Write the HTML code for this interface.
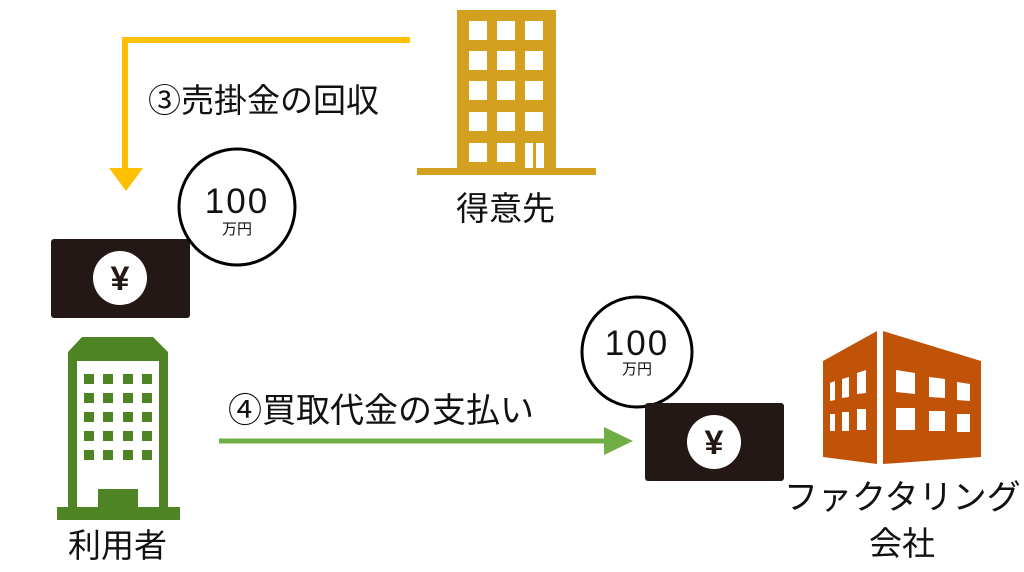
<!DOCTYPE html>
<html><head><meta charset="utf-8"><style>
body{margin:0;width:1024px;height:572px;background:#fff;overflow:hidden;position:relative;font-family:"Liberation Sans","Noto Sans CJK JP",sans-serif}
.t{position:absolute;color:#111;white-space:nowrap;line-height:1}
</style></head><body>
<svg width="1024" height="572" style="position:absolute;left:0;top:0">
<polyline points="410,40 125,40 125,172" fill="none" stroke="#FFC000" stroke-width="6"/>
<polygon points="109,168 143,168 126,191" fill="#FFC000"/>
<rect x="457" y="10" width="99" height="160" fill="#D4A020"/>
<rect x="417" y="168" width="179" height="7" fill="#D4A020"/>
<g fill="#fff">
<rect x="469" y="21" width="18" height="19"/><rect x="497" y="21" width="18" height="19"/><rect x="525" y="21" width="18" height="19"/>
<rect x="469" y="51" width="18" height="19"/><rect x="497" y="51" width="18" height="19"/><rect x="525" y="51" width="18" height="19"/>
<rect x="469" y="81" width="18" height="19"/><rect x="497" y="81" width="18" height="19"/><rect x="525" y="81" width="18" height="19"/>
<rect x="469" y="112" width="18" height="19"/><rect x="497" y="112" width="18" height="19"/><rect x="525" y="112" width="18" height="19"/>
<rect x="469" y="143" width="18" height="19"/><rect x="497" y="143" width="18" height="19"/>
<rect x="525" y="143" width="8" height="25"/><rect x="536" y="143" width="8" height="25"/>
</g>
<rect x="51" y="239" width="139" height="79" rx="3" fill="#231815"/>
<circle cx="120" cy="278" r="27" fill="#fff"/>
<text x="120" y="290" font-size="34" font-weight="bold" text-anchor="middle" fill="#231815" font-family="Liberation Sans,Noto Sans CJK JP,sans-serif">¥</text>
<circle cx="237" cy="207" r="58" fill="#fff" stroke="#000" stroke-width="3"/>
<circle cx="637" cy="352" r="55" fill="#fff" stroke="#000" stroke-width="3"/>
<rect x="645" y="403" width="139" height="78" rx="3" fill="#231815"/>
<circle cx="714" cy="442" r="27" fill="#fff"/>
<text x="714" y="454" font-size="34" font-weight="bold" text-anchor="middle" fill="#231815" font-family="Liberation Sans,Noto Sans CJK JP,sans-serif">¥</text>
<line x1="219" y1="441" x2="608" y2="441" stroke="#70AD47" stroke-width="5"/>
<polygon points="604,427 604,455 633,441" fill="#70AD47"/>
<polygon points="68,352 82,337 153,337 168,352 168,508 68,508" fill="#4E8424"/>
<rect x="77" y="361" width="82" height="147" fill="#fff"/>
<rect x="98" y="489" width="40" height="20" fill="#4E8424"/>
<rect x="57" y="507" width="123" height="13" fill="#4E8424"/>
<g fill="#4E8424">
<rect x="84" y="374" width="10" height="10"/><rect x="103" y="374" width="10" height="10"/><rect x="123" y="374" width="10" height="10"/><rect x="142" y="374" width="10" height="10"/>
<rect x="84" y="393" width="10" height="10"/><rect x="103" y="393" width="10" height="10"/><rect x="123" y="393" width="10" height="10"/><rect x="142" y="393" width="10" height="10"/>
<rect x="84" y="412" width="10" height="10"/><rect x="103" y="412" width="10" height="10"/><rect x="123" y="412" width="10" height="10"/><rect x="142" y="412" width="10" height="10"/>
<rect x="84" y="431" width="10" height="10"/><rect x="103" y="431" width="10" height="10"/><rect x="123" y="431" width="10" height="10"/><rect x="142" y="431" width="10" height="10"/>
<rect x="84" y="450" width="10" height="10"/><rect x="103" y="450" width="10" height="10"/><rect x="123" y="450" width="10" height="10"/><rect x="142" y="450" width="10" height="10"/>
</g>
<polygon points="823,361 877,331 877,464 823,457" fill="#C05308"/>
<polygon points="883,331 981,361 981,457 883,464" fill="#C05308"/>
<g fill="#fff">
<polygon points="830,383 835,381 835,400 830,401"/><polygon points="842,379 849,377 849,397 842,398"/><polygon points="857,373 866,370 866,393 857,394"/>
<rect x="830" y="414" width="5" height="17"/><rect x="842" y="412" width="7" height="19"/><rect x="857" y="409" width="9" height="21"/>
<polygon points="896,370 915,373 915,394 896,392"/><polygon points="929,377 945,379 945,398 929,397"/><polygon points="957,382 970,384 970,401 957,400"/>
<rect x="896" y="408" width="19" height="22"/><rect x="929" y="411" width="16" height="20"/><rect x="957" y="414" width="13" height="18"/>
</g>
</svg>
<div class="t" style="left:148px;top:84px;font-size:33px">③売掛金の回収</div>
<div class="t" style="left:228px;top:394px;font-size:34px">④買取代金の支払い</div>
<div class="t" style="left:456px;top:192px;font-size:33px">得意先</div>
<div class="t" style="left:68px;top:529px;font-size:33px">利用者</div>
<div class="t" style="left:784px;top:481px;font-size:34px">ファクタリング</div>
<div class="t" style="left:869px;top:527px;font-size:33px">会社</div>
<div class="t" style="left:199px;top:184px;font-size:35px;width:76px;text-align:center;letter-spacing:2px">100</div>
<div class="t" style="left:199px;top:222px;font-size:15px;width:76px;text-align:center">万円</div>
<div class="t" style="left:599px;top:326px;font-size:35px;width:76px;text-align:center;letter-spacing:2px">100</div>
<div class="t" style="left:599px;top:362px;font-size:15px;width:76px;text-align:center">万円</div>
</body></html>
